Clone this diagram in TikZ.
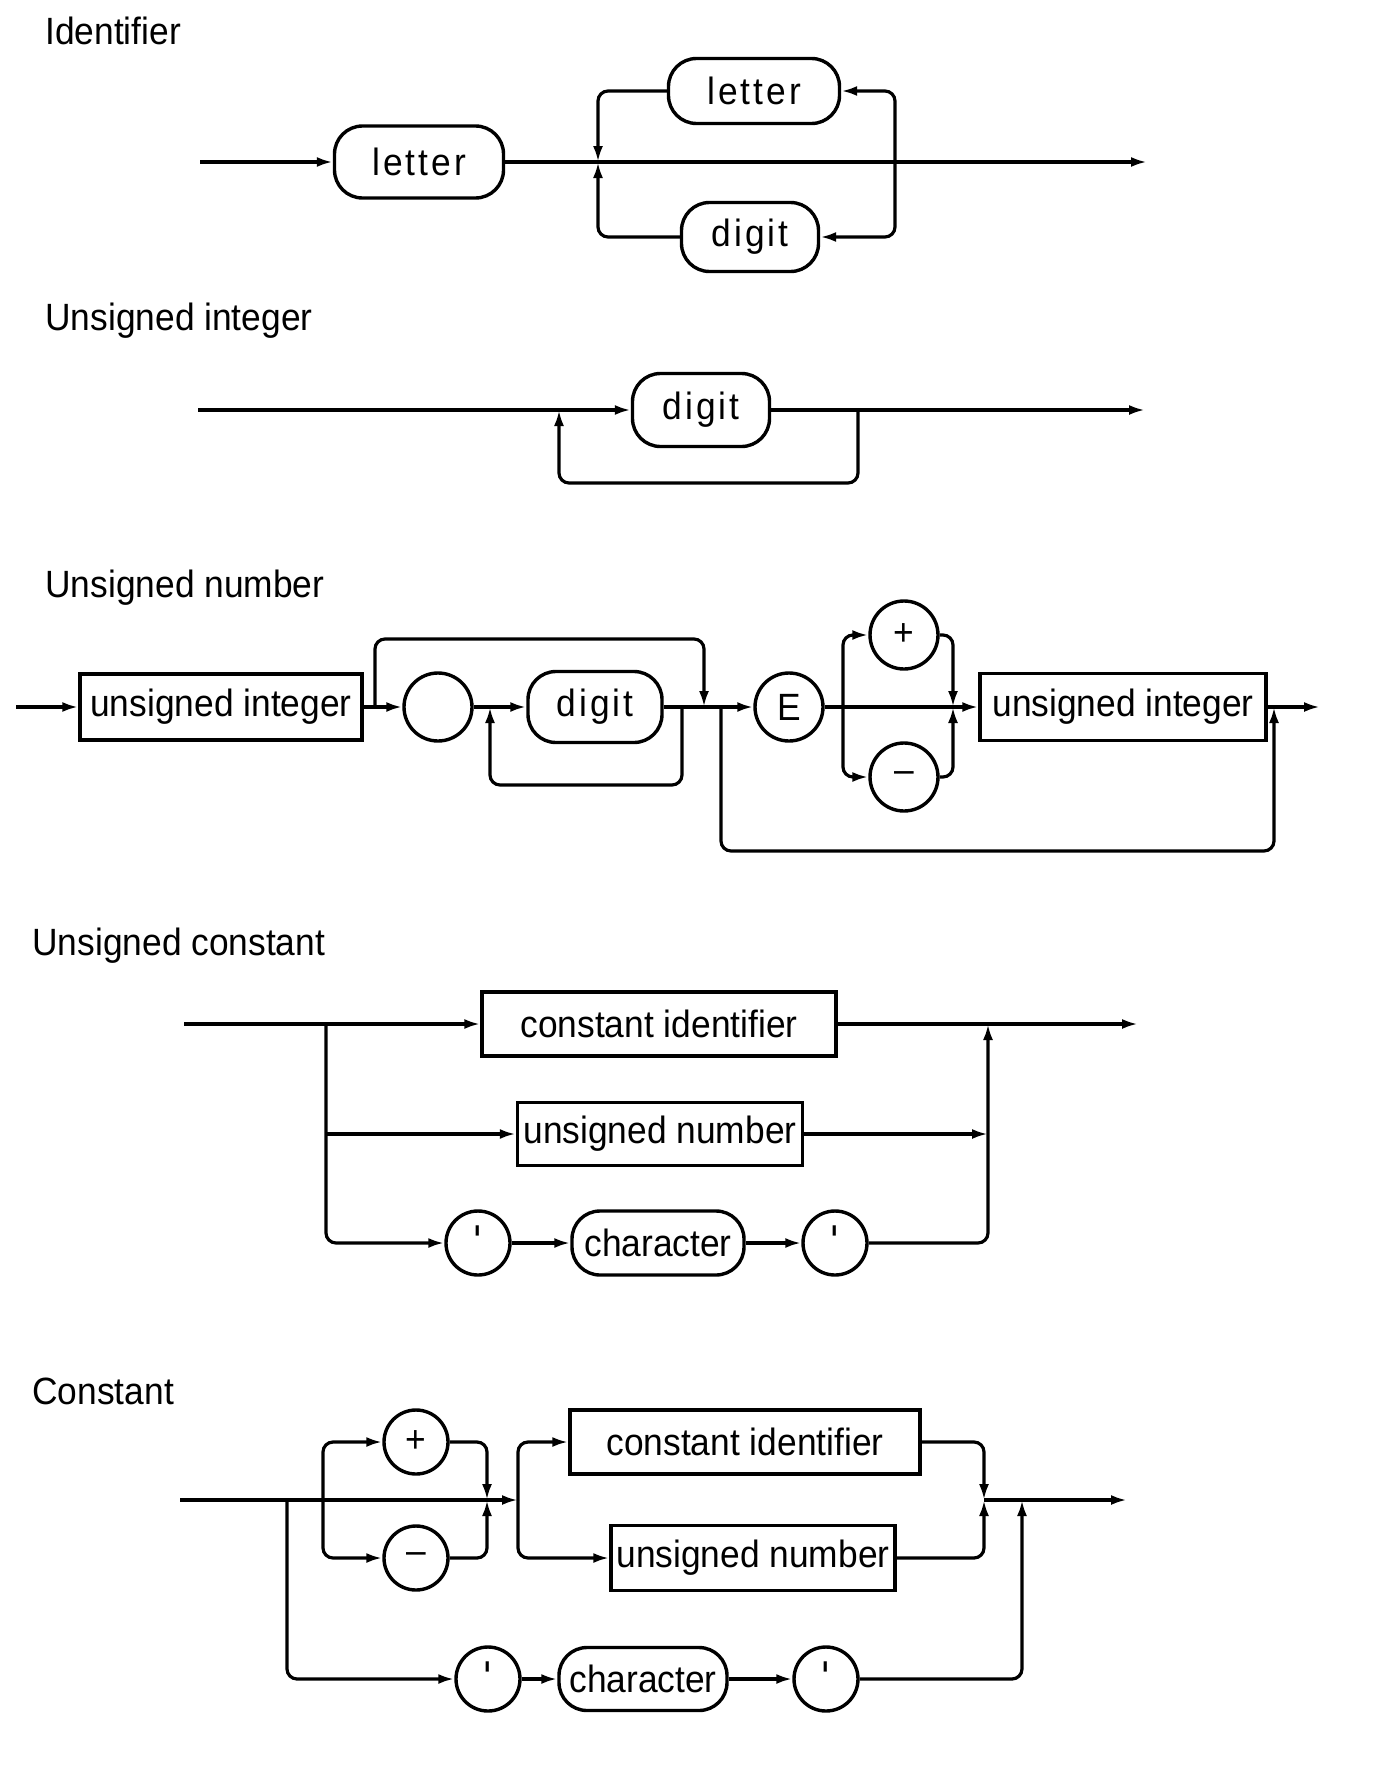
\documentclass[tikz,border=0pt]{standalone}
\usepackage{fontspec}
\setmainfont[FakeStretch=0.93]{Liberation Sans}
\newfontfamily\spacedfont[FakeStretch=0.93,LetterSpace=8]{Liberation Sans}
\newfontfamily\tickfont[Ligatures=ResetAll]{DejaVu Sans}
\usetikzlibrary{arrows.meta}
\newcommand{\quotetick}{\raisebox{3pt}{\tickfont\textquotesingle}}
\newcommand{\minussign}{\raisebox{-3pt}{\textendash}}
\begin{document}
\begin{tikzpicture}[x=0.5pt,y=-0.5pt,
  font=\fontsize{19}{22}\selectfont,
  every node/.style={inner sep=0pt},
  title/.style={anchor=west},
  sqbox/.style={draw,line width=1.7pt,rectangle},
  rbox/.style={draw,line width=1.7pt,rectangle,rounded corners=14pt},
  term/.style={draw,line width=1.7pt,circle,minimum size=34pt},
  conn/.style={line width=1.6pt,rounded corners=5pt},
  arr/.style={conn,-{Latex[length=8pt,width=5pt]}}
]
\useasboundingbox (0,0) rectangle (1388,1766);

% ---------- Identifier ----------
\node[title] (tId) at (45,31) {Identifier};
\node[rbox,minimum width=84.5pt,minimum height=36pt] (idA) at (419,162) {\spacedfont letter};
\node[rbox,minimum width=85.5pt,minimum height=32.5pt] (idL) at (754,91) {\spacedfont letter};
\node[rbox,minimum width=68.5pt,minimum height=34.5pt] (idD) at (750,237) {\spacedfont digit};
\coordinate (idIn) at (200,162);
\coordinate (idOut) at (1147,162);
\coordinate (idJL) at (598,162);
\coordinate (idJR) at (895,162);
\draw[arr] (idIn) -- (idA);
\draw[arr] (idA) -- (idOut);
\draw[arr] (idJR) |- (idL);
\draw[arr] (idL) -| (idJL);
\draw[arr] (idJR) |- (idD);
\draw[arr] (idD) -| (idJL);

% ---------- Unsigned integer ----------
\node[title] (tUi) at (45,321) {Unsigned integer};
\node[rbox,minimum width=68.5pt,minimum height=36.5pt] (uiD) at (701,410) {\spacedfont digit};
\coordinate (uiIn) at (198,410);
\coordinate (uiOut) at (1145,410);
\coordinate (uiJ1) at (559,410);
\coordinate (uiJ2) at (858,410);
\coordinate (uiB1) at (858,483);
\coordinate (uiB2) at (559,483);
\draw[arr] (uiIn) -- (uiD);
\draw[arr] (uiD) -- (uiOut);
\draw[arr] (uiJ2) -- (uiB1) -- (uiB2) -- (uiJ1);

% ---------- Unsigned number ----------
\node[title] (tUn) at (45,588) {Unsigned number};
\node[sqbox,minimum width=141pt,minimum height=33pt] (unA) at (221,707) {unsigned integer};
\node[term] (unC) at (438,707) {};
\node[rbox,minimum width=67pt,minimum height=35.5pt] (unD) at (595,707) {\spacedfont digit};
\node[term] (unE) at (789,707) {E};
\node[term] (unP) at (904,635) {+};
\node[term] (unM) at (904,777) {\minussign};
\node[sqbox,minimum width=143pt,minimum height=33.5pt] (unB) at (1123,707) {unsigned integer};
\coordinate (unIn) at (16,707);
\coordinate (unOut) at (1320,707);
\coordinate (unT1) at (375,707);
\coordinate (unT2) at (704,707);
\coordinate (unL1) at (682,707);
\coordinate (unL2) at (490,707);
\coordinate (unX1) at (721,707);
\coordinate (unX2) at (1274,707);
\coordinate (unSL) at (843,707);
\coordinate (unSR) at (953,707);
\draw[arr] (unIn) -- (unA);
\draw[arr] (unA) -- (unC);
\draw[arr] (unC) -- (unD);
\draw[arr] (unD) -- (unE);
\draw[arr] (unE) -- (unB);
\draw[arr] (unB) -- (unOut);
\draw[arr] (unT1) -- ++(0,-68) -| (unT2);
\draw[arr] (unL1) -- ++(0,78) -| (unL2);
\draw[arr] (unX1) -- ++(0,144) -| (unX2);
\draw[arr] (unSL) |- (unP);
\draw[arr] (unSL) |- (unM);
\draw[arr] (unP) -| (unSR);
\draw[arr] (unM) -| (unSR);

% ---------- Unsigned constant ----------
\node[title] (tUc) at (32,946) {Unsigned constant};
\node[sqbox,minimum width=177pt,minimum height=32pt] (ucCI) at (659,1024) {constant identifier};
\node[sqbox,minimum width=142.5pt,minimum height=31.5pt] (ucUN) at (660,1134) {unsigned number};
\node[term,minimum size=32pt] (ucQ1) at (478,1243) {\quotetick};
\node[rbox,minimum width=86pt,minimum height=32pt] (ucCh) at (658,1243) {character};
\node[term,minimum size=32pt] (ucQ2) at (835,1243) {\quotetick};
\coordinate (ucIn) at (184,1024);
\coordinate (ucOut) at (1138,1024);
\coordinate (ucJL) at (326,1024);
\coordinate (ucJL2) at (326,1134);
\coordinate (ucJR) at (988,1024);
\coordinate (ucJR2) at (988,1134);
\draw[arr] (ucIn) -- (ucCI);
\draw[arr] (ucCI) -- (ucOut);
\draw[arr] (ucJL) |- (ucQ1);
\draw[arr] (ucJL2) -- (ucUN);
\draw[arr] (ucUN) -- (ucJR2);
\draw[arr] (ucQ1) -- (ucCh);
\draw[arr] (ucCh) -- (ucQ2);
\draw[arr] (ucQ2) -| (ucJR);

% ---------- Constant ----------
\node[title] (tC) at (32,1391) {Constant};
\node[term,minimum size=32pt] (cP) at (416,1442) {+};
\node[term,minimum size=32pt] (cM) at (416,1558) {\minussign};
\node[sqbox,minimum width=175pt,minimum height=32pt] (cCI) at (745,1442) {constant identifier};
\node[sqbox,minimum width=142pt,minimum height=32.5pt] (cUN) at (753,1558) {unsigned number};
\node[term,minimum size=32pt] (cQ1) at (488,1679) {\quotetick};
\node[rbox,minimum width=84pt,minimum height=31.5pt] (cCh) at (643,1679) {character};
\node[term,minimum size=32pt] (cQ2) at (826,1679) {\quotetick};
\coordinate (cIn) at (180,1500);
\coordinate (cJC) at (287,1500);
\coordinate (cJS) at (323,1500);
\coordinate (cJS2) at (487,1500);
\coordinate (cJ2) at (518,1500);
\coordinate (cJR) at (984,1500);
\coordinate (cJE) at (1022,1500);
\coordinate (cOut) at (1127,1500);
\draw[conn] (cIn) -- (cJS);
\draw[arr] (cJS) -- (cJ2);
\draw[arr] (cJS) |- (cP);
\draw[arr] (cJS) |- (cM);
\draw[arr] (cP) -| (cJS2);
\draw[arr] (cM) -| (cJS2);
\draw[arr] (cJ2) |- (cCI);
\draw[arr] (cJ2) |- (cUN);
\draw[arr] (cCI) -| (cJR);
\draw[arr] (cUN) -| (cJR);
\draw[arr] (cJR) -- (cOut);
\draw[arr] (cJC) |- (cQ1);
\draw[arr] (cQ1) -- (cCh);
\draw[arr] (cCh) -- (cQ2);
\draw[arr] (cQ2) -| (cJE);
\end{tikzpicture}
\end{document}
